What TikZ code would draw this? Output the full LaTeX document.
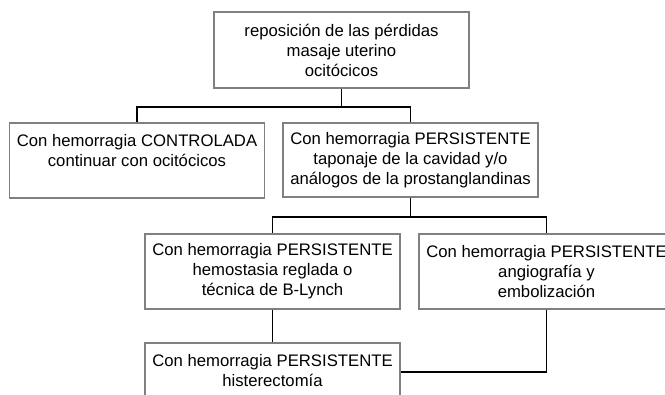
\documentclass[tikz,border=0pt]{standalone}
\usepackage{fontspec}
\setmainfont{Liberation Sans}
\begin{document}
\begin{tikzpicture}[x=1bp,y=-1bp,
  box/.style={draw=black!50, line width=1.2bp, fill=white, align=center, inner sep=0pt,
    minimum width=255bp, minimum height=75bp,
    font=\fontsize{16.7bp}{20bp}\selectfont},
  link/.style={draw=black, line width=1.2bp}]
\useasboundingbox (0,0) rectangle (665,394);
\clip (0,0) rectangle (665,394);
\node[box, minimum height=76bp] (top) at (341.5,50) {reposición de las pérdidas\\masaje uterino\\ocitócicos};
\node[box] (c1) at (137,160.5) {Con hemorragia CONTROLADA\\continuar con ocitócicos\\\mbox{}};
\node[box, minimum height=74bp] (c2) at (410.5,160) {Con hemorragia PERSISTENTE\\taponaje de la cavidad y/o\\análogos de la prostanglandinas};
\node[box] (d1) at (272.5,271.5) {Con hemorragia PERSISTENTE\\hemostasia reglada o\\técnica de B-Lynch};
\node[box] (d2) at (546.5,271.5) {Con hemorragia PERSISTENTE\\angiografía y\\embolización};
\node[box] (e1) at (272.5,380.5) {Con hemorragia PERSISTENTE\\histerectomía\\\mbox{}};
\coordinate (j1) at (341.5,107);
\coordinate (j2) at (410.5,217);
\coordinate (j3) at (546.5,372);
\draw[link] (top.south) -- (j1) -| (c1.north);
\draw[link] (j1) -| (c2.north);
\draw[link] (c2.south) -- (j2) -| (d1.north);
\draw[link] (j2) -| (d2.north);
\draw[link] (d1.south) -- (e1.north);
\draw[link] (d2.south) -- (j3) -- (j3 -| e1.east);
\end{tikzpicture}
\end{document}
